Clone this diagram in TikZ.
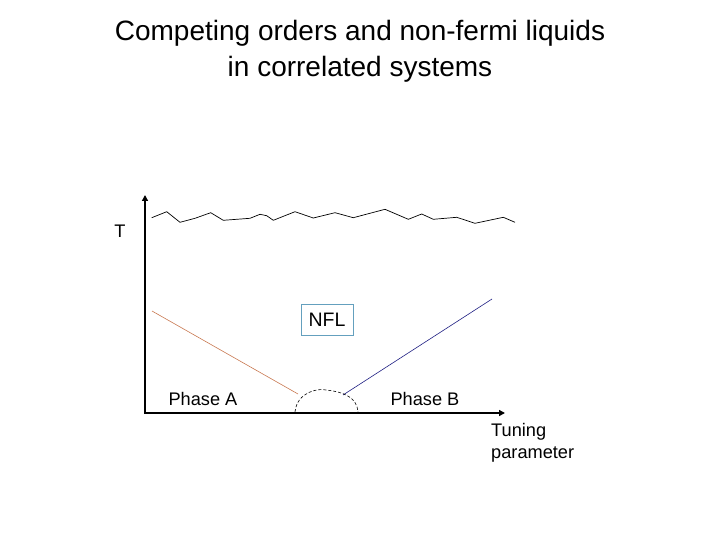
\documentclass[tikz,border=0pt]{standalone}
\usepackage{fontspec}
\setmainfont{Liberation Sans}
\usetikzlibrary{arrows.meta}
\definecolor{redline}{RGB}{200,120,80}
\definecolor{blueline}{RGB}{30,30,130}
\definecolor{boxblue}{RGB}{100,160,190}
\tikzset{
  axis/.style={line width=2pt,-{Triangle[length=6pt,width=6pt]}},
  lbl/.style={font=\fontsize{18.2}{21}\selectfont,inner sep=0pt},
}
\begin{document}
\begin{tikzpicture}[x=1pt,y=-1pt]
\useasboundingbox (0,0) rectangle (720,540);
\node[align=center,font=\fontsize{28}{36}\selectfont] (title) at (360,51) {Competing orders and non-fermi liquids\\in correlated systems};
\coordinate (origin) at (145,413);
\coordinate (ytop) at (145,195);
\coordinate (xend) at (505,413);
\draw[axis] (origin) -- (ytop);
\draw[axis] ([xshift=-1pt]origin) -- (xend);
\draw[line width=0.7pt] (151.7,217.7) -- (166.7,211.7) -- (180,222.3) -- (195,218.3) -- (210.7,212.7) -- (223.3,220.3) -- (250,218.3) -- (260,214.3) -- (266.7,215.7) -- (273.3,220.3) -- (295,211.7) -- (313.3,218) -- (335,212.7) -- (353.3,217.7) -- (385,209.3) -- (408.3,219.3) -- (421.7,214) -- (433.3,219.3) -- (456.7,217.3) -- (475,223.3) -- (503.3,217.3) -- (515,222.3);
\coordinate (ra) at (152,311);
\coordinate (rb) at (298,394);
\coordinate (ba) at (343,395);
\coordinate (bb) at (492,299);
\draw[redline,line width=0.6pt] (ra) -- (rb);
\draw[blueline,line width=0.6pt] (ba) -- (bb);
\coordinate (dl) at (295,412);
\coordinate (dr) at (358,412);
\draw[dashed,dash pattern=on 3pt off 2pt,line width=0.6pt] (dl) .. controls (297,392) and (318,388) .. (326,390) .. controls (345,392) and (357,398) .. (dr);
\node[draw=boxblue,line width=0.7pt,minimum width=52pt,minimum height=31pt,font=\fontsize{19.5}{22}\selectfont] (nfl) at (327,320) {NFL};
\node[lbl] (T) at (120,231) {T};
\node[lbl] (pa) at (203,399) {Phase A};
\node[lbl] (pb) at (425,399) {Phase B};
\node[lbl,anchor=west,align=left,font=\fontsize{18.2}{22}\selectfont] (tp) at (491,443) {Tuning\\parameter};
\end{tikzpicture}
\end{document}
